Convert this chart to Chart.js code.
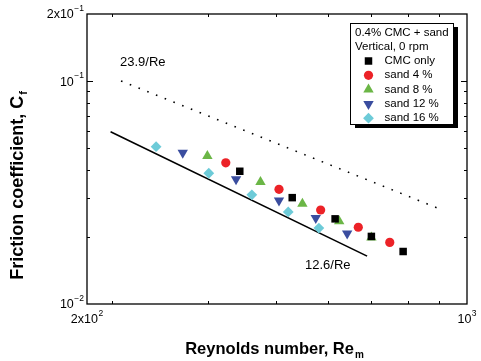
<!DOCTYPE html>
<html>
<head>
<meta charset="utf-8">
<script src="https://cdn.jsdelivr.net/npm/chart.js@4/dist/chart.umd.min.js"></script>
<style>
  html, body { margin: 0; padding: 0; background: #fff; }
  #wrap { width: 481px; height: 361px; }
</style>
</head>
<body>
<div id="wrap"><canvas id="frictionChart" width="481" height="361"></canvas></div>
<script>
// Re_m / C_f values
const cmcRe = [382, 477, 572, 667, 763];
const cmcCf = [0.0394, 0.0300, 0.0241, 0.0201, 0.0172];
const sand4Re = [360, 451, 538, 631, 721];
const sand4Cf = [0.0430, 0.0327, 0.0264, 0.0221, 0.0189];
const sand8Re = [333, 417, 498, 582, 667];
const sand8Cf = [0.0461, 0.0353, 0.0282, 0.0235, 0.0199];
const sand12Re = [300, 376, 451, 527, 602];
const sand12Cf = [0.0477, 0.0363, 0.0291, 0.0243, 0.0207];
const sand16Re = [268, 335, 402, 469, 534];
const sand16Cf = [0.0508, 0.0386, 0.0309, 0.0259, 0.0219];

// reference lines (end points)
const laminarRe = [231, 905];
const laminarCf = [0.1001, 0.0263];
const fitRe = [221, 655];
const fitCf = [0.0593, 0.0164];

// axes
const xMin = 200, xMax = 1000;
const yMin = 0.01, yMax = 0.2;
const xTicks = [222.2, 333.3, 444.4, 555.6, 666.7, 777.8, 888.9];
const yTicks = [0.02, 0.03, 0.04, 0.05, 0.06, 0.07, 0.08, 0.09];
const xTickLabels = [[200, "2x10", "2"], [1000, "10", "3"]];
const yTickLabels = [[0.01, "10", "\u22122"], [0.1, "10", "\u22121"], [0.2, "2x10", "\u22121"]];

const legendTitle = ["0.4% CMC + sand", "Vertical, 0 rpm"];

const pts = (xs, ys) => xs.map((v, i) => ({x: v, y: ys[i]}));
const FONT = '"Liberation Sans", Arial, sans-serif';

function marker(label, xs, ys, style, color, radius, rotation) {
  return {
    label: label,
    data: pts(xs, ys),
    pointStyle: style,
    pointRadius: radius,
    pointHoverRadius: radius,
    rotation: rotation || 0,
    backgroundColor: color,
    borderColor: color,
    borderWidth: 0,
    showLine: false,
  };
}

const markerSets = [
  marker("CMC only", cmcRe, cmcCf, "rect", "#000000", 5.3),
  marker("sand 4 %", sand4Re, sand4Cf, "circle", "#ec2227", 4.6),
  marker("sand 8 %", sand8Re, sand8Cf, "triangle", "#6bb646", 6),
  marker("sand 12 %", sand12Re, sand12Cf, "triangle", "#3a4d9f", 6, 180),
  marker("sand 16 %", sand16Re, sand16Cf, "rectRot", "#6dcbd8", 5.4),
];

function drawPower(ctx, base, exp, x, y, align) {
  ctx.font = "12.5px " + FONT;
  const bw = ctx.measureText(base).width;
  ctx.font = "8.5px " + FONT;
  const ew = ctx.measureText(exp).width;
  const total = bw + ew + 0.5;
  let left = x;
  if (align === "right") left = x - total;
  if (align === "center") left = x - total / 2;
  ctx.textAlign = "left";
  ctx.textBaseline = "middle";
  ctx.font = "12.5px " + FONT;
  ctx.fillText(base, left, y);
  ctx.font = "8.5px " + FONT;
  ctx.fillText(exp, left + bw + 0.5, y - 6);
}

// frame, inward ticks, tick labels, titles and the boxed legend
const decor = {
  id: "decor",
  afterDatasetsDraw(chart) {
    const {ctx, chartArea: a, scales} = chart;
    const sx = scales.x, sy = scales.y;
    ctx.save();
    ctx.fillStyle = "#000";
    ctx.strokeStyle = "#000";
    ctx.lineWidth = 1.3;
    ctx.strokeRect(a.left, a.top, a.right - a.left, a.bottom - a.top);

    ctx.lineWidth = 1;
    ctx.beginPath();
    xTicks.forEach((v) => {
      const px = Math.round(sx.getPixelForValue(v)) + 0.5;
      ctx.moveTo(px, a.bottom); ctx.lineTo(px, a.bottom - 3);
      ctx.moveTo(px, a.top); ctx.lineTo(px, a.top + 3);
    });
    yTicks.forEach((v) => {
      const py = Math.round(sy.getPixelForValue(v)) + 0.5;
      ctx.moveTo(a.left, py); ctx.lineTo(a.left + 3, py);
      ctx.moveTo(a.right, py); ctx.lineTo(a.right - 3, py);
    });
    const py1 = Math.round(sy.getPixelForValue(0.1)) + 0.5;
    ctx.moveTo(a.left, py1); ctx.lineTo(a.left + 6, py1);
    ctx.moveTo(a.right, py1); ctx.lineTo(a.right - 6, py1);
    ctx.stroke();

    xTickLabels.forEach(([v, b, e]) => {
      drawPower(ctx, b, e, sx.getPixelForValue(v), a.bottom + 16, "center");
    });
    yTickLabels.forEach(([v, b, e]) => {
      drawPower(ctx, b, e, a.left - 3, sy.getPixelForValue(v) + 1, "right");
    });

    // line labels
    ctx.font = "13px " + FONT;
    ctx.textAlign = "left";
    ctx.textBaseline = "middle";
    ctx.fillText("23.9/Re", 120, 62);
    ctx.fillText("12.6/Re", 305, 265);

    // x title
    ctx.font = "bold 16.5px " + FONT;
    const xt = "Reynolds number, Re";
    const xw = ctx.measureText(xt).width;
    ctx.font = "bold 10px " + FONT;
    const mw = ctx.measureText("m").width;
    let x0 = (a.left + a.right) / 2 - (xw + mw) / 2 - 3;
    ctx.font = "bold 16.5px " + FONT;
    ctx.fillText(xt, x0, 349);
    ctx.font = "bold 10px " + FONT;
    ctx.fillText("m", x0 + xw + 1, 355);

    // y title
    ctx.save();
    ctx.translate(18, 186);
    ctx.rotate(-Math.PI / 2);
    ctx.font = "bold 18px " + FONT;
    const yt = "Friction coefficient, C";
    const yw = ctx.measureText(yt).width;
    ctx.font = "bold 11px " + FONT;
    const fw = ctx.measureText("f").width;
    const y0 = -(yw + fw) / 2;
    ctx.font = "bold 18px " + FONT;
    ctx.fillText(yt, y0, 0);
    ctx.font = "bold 11px " + FONT;
    ctx.fillText("f", y0 + yw + 1, 6);
    ctx.restore();

    // legend box with shadow
    const bx = 350, by = 23, bw = 103, bh = 101;
    ctx.fillRect(bx + 5, by + 4, bw, bh);
    ctx.fillStyle = "#fff";
    ctx.fillRect(bx, by, bw, bh);
    ctx.lineWidth = 1;
    ctx.strokeRect(bx + 0.5, by + 0.5, bw, bh);
    ctx.fillStyle = "#000";
    ctx.font = "11.5px " + FONT;
    ctx.fillText(legendTitle[0], bx + 5, by + 10);
    ctx.fillText(legendTitle[1], bx + 5, by + 23.5);
    markerSets.forEach((ds, i) => {
      const cy = by + 38 + i * 14.3;
      ctx.fillStyle = ds.backgroundColor;
      ctx.strokeStyle = ds.borderColor;
      ctx.lineWidth = 0.01;
      Chart.helpers.drawPoint(ctx, {
        pointStyle: ds.pointStyle,
        rotation: ds.rotation,
        radius: ds.pointRadius,
        borderWidth: 0,
      }, 368.5, cy);
      ctx.fillStyle = "#000";
      ctx.fillText(ds.label, 384.5, cy);
    });
    ctx.restore();
  },
};

new Chart(document.getElementById("frictionChart").getContext("2d"), {
  type: "scatter",
  data: {
    datasets: [
      ...markerSets,
      {
        label: "23.9/Re",
        data: pts(laminarRe, laminarCf),
        showLine: true,
        borderColor: "#000",
        borderWidth: 1.6,
        borderDash: [1.6, 7.8],
        pointRadius: 0,
      },
      {
        label: "12.6/Re",
        data: pts(fitRe, fitCf),
        showLine: true,
        borderColor: "#000",
        borderWidth: 1.6,
        pointRadius: 0,
      },
    ],
  },
  options: {
    responsive: false,
    animation: false,
    layout: { padding: { left: 87, top: 14, right: 14, bottom: 57 } },
    scales: {
      x: { type: "logarithmic", min: xMin, max: xMax, display: false },
      y: { type: "logarithmic", min: yMin, max: yMax, display: false },
    },
    plugins: {
      legend: { display: false },
      tooltip: { enabled: false },
    },
  },
  plugins: [decor],
});
</script>
</body>
</html>
